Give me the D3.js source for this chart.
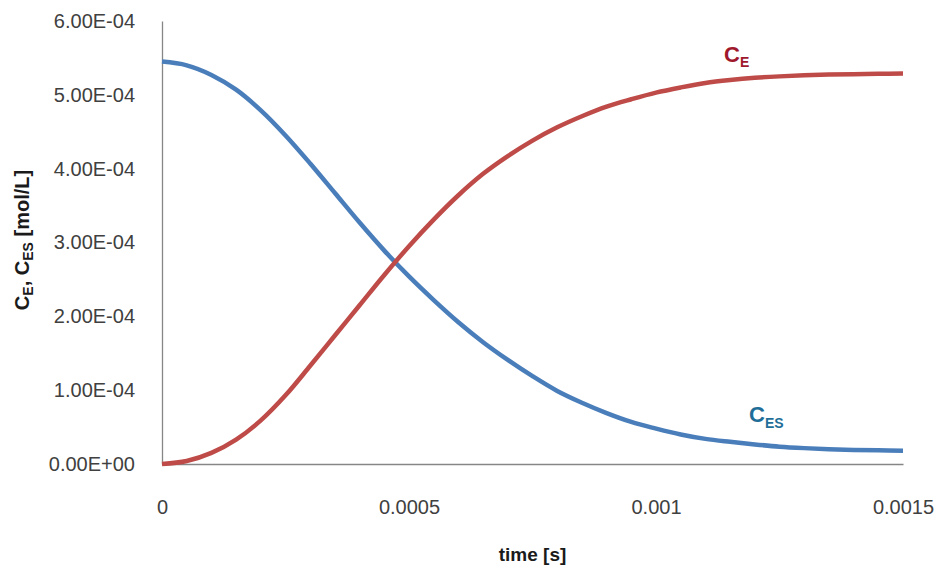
<!DOCTYPE html>
<html>
<head>
<meta charset="utf-8">
<script src="https://cdn.jsdelivr.net/npm/d3@7"></script>
<style>
  html, body { margin: 0; padding: 0; background: #ffffff; }
  svg { display: block; }
  text { font-family: "Liberation Sans", Arial, sans-serif; }
</style>
</head>
<body>
<svg id="chart" width="945" height="577"></svg>
<script>
// ---- data ----
const time = [0, 0.00005, 0.0001, 0.00015, 0.0002, 0.00025, 0.0003, 0.00035, 0.0004, 0.00045,
              0.0005, 0.00055, 0.0006, 0.00065, 0.0007, 0.00075, 0.0008, 0.00085, 0.0009, 0.00095,
              0.001, 0.00105, 0.0011, 0.00115, 0.0012, 0.00125, 0.0013, 0.00135, 0.0014, 0.00145, 0.0015];
// C_E [mol/L]
const cE = [0.00e-4, 0.04e-4, 0.15e-4, 0.33e-4, 0.59e-4, 0.93e-4, 1.33e-4, 1.74e-4, 2.15e-4, 2.56e-4,
            2.95e-4, 3.31e-4, 3.64e-4, 3.93e-4, 4.17e-4, 4.38e-4, 4.56e-4, 4.71e-4, 4.84e-4, 4.94e-4,
            5.03e-4, 5.10e-4, 5.16e-4, 5.20e-4, 5.23e-4, 5.25e-4, 5.265e-4, 5.275e-4, 5.28e-4, 5.285e-4, 5.29e-4];
// C_ES [mol/L]
const cES = [5.45e-4, 5.40e-4, 5.27e-4, 5.07e-4, 4.79e-4, 4.45e-4, 4.07e-4, 3.67e-4, 3.27e-4, 2.89e-4,
             2.54e-4, 2.22e-4, 1.92e-4, 1.65e-4, 1.41e-4, 1.19e-4, 0.99e-4, 0.83e-4, 0.69e-4, 0.57e-4,
             0.48e-4, 0.40e-4, 0.34e-4, 0.30e-4, 0.265e-4, 0.235e-4, 0.215e-4, 0.20e-4, 0.19e-4, 0.185e-4, 0.18e-4];
const xTicks = [0, 0.0005, 0.001, 0.0015];
const xTickLabels = ["0", "0.0005", "0.001", "0.0015"];
const yTicks = [0, 1e-4, 2e-4, 3e-4, 4e-4, 5e-4, 6e-4];
const yTickLabels = ["0.00E+00", "1.00E-04", "2.00E-04", "3.00E-04", "4.00E-04", "5.00E-04", "6.00E-04"];

// ---- layout ----
const svg = d3.select("#chart");
const plotL = 162, plotR = 903, plotT = 21, plotB = 464;

const x = d3.scaleLinear().domain([0, 0.0015]).range([plotL, plotR]);
const y = d3.scaleLinear().domain([0, 6e-4]).range([plotB, plotT]);

const axisColor = "#868686";
const labelColor = "#404040";

// x axis
const gx = svg.append("g").attr("transform", `translate(0,${plotB})`)
  .call(d3.axisBottom(x).tickValues(xTicks).tickSize(0).tickPadding(36)
        .tickFormat((d, i) => xTickLabels[i]));
gx.select(".domain").attr("stroke", axisColor).attr("stroke-width", 1.3);
gx.selectAll("text").attr("fill", labelColor).style("font-size", "20px")
  .style("font-family", '"Liberation Sans", Arial, sans-serif');

// y axis
const gy = svg.append("g").attr("transform", `translate(${plotL},0)`)
  .call(d3.axisLeft(y).tickValues(yTicks).tickSize(0).tickPadding(27)
        .tickFormat((d, i) => yTickLabels[i]));
gy.select(".domain").attr("stroke", axisColor).attr("stroke-width", 1.3);
gy.selectAll("text").attr("fill", labelColor).style("font-size", "20px")
  .style("font-family", '"Liberation Sans", Arial, sans-serif');

// lines
const line = (vals) => d3.line()
  .x((d, i) => x(time[i]))
  .y(d => y(d))
  .curve(d3.curveCatmullRom.alpha(0.5))(vals);

svg.append("path").attr("d", line(cES))
  .attr("fill", "none").attr("stroke", "#4a7ebb").attr("stroke-width", 4.5)
  .attr("stroke-linecap", "butt");
svg.append("path").attr("d", line(cE))
  .attr("fill", "none").attr("stroke", "#be4b48").attr("stroke-width", 4.5)
  .attr("stroke-linecap", "butt");

// series labels
const lblE = svg.append("text").attr("x", 724).attr("y", 62)
  .attr("fill", "#a0182c").style("font-weight", "bold").style("font-size", "22px");
lblE.append("tspan").text("C");
lblE.append("tspan").attr("dy", 5).style("font-size", "14px").text("E");

const lblES = svg.append("text").attr("x", 749).attr("y", 422)
  .attr("fill", "#1f6e98").style("font-weight", "bold").style("font-size", "22px");
lblES.append("tspan").text("C");
lblES.append("tspan").attr("dy", 6).style("font-size", "14px").text("ES");

// axis titles
svg.append("text").attr("x", (plotL + plotR) / 2).attr("y", 561)
  .attr("text-anchor", "middle").attr("fill", "#1a1a1a")
  .style("font-weight", "bold").style("font-size", "19px").text("time [s]");

const yt = svg.append("text")
  .attr("transform", `translate(29,240) rotate(-90)`)
  .attr("text-anchor", "middle").attr("fill", "#1a1a1a")
  .style("font-weight", "bold").style("font-size", "20px");
yt.append("tspan").text("C");
yt.append("tspan").attr("dy", 4).style("font-size", "14px").text("E");
yt.append("tspan").attr("dy", -4).text(", C");
yt.append("tspan").attr("dy", 4).style("font-size", "14px").text("ES");
yt.append("tspan").attr("dy", -4).text(" [mol/L]");
</script>
</body>
</html>
